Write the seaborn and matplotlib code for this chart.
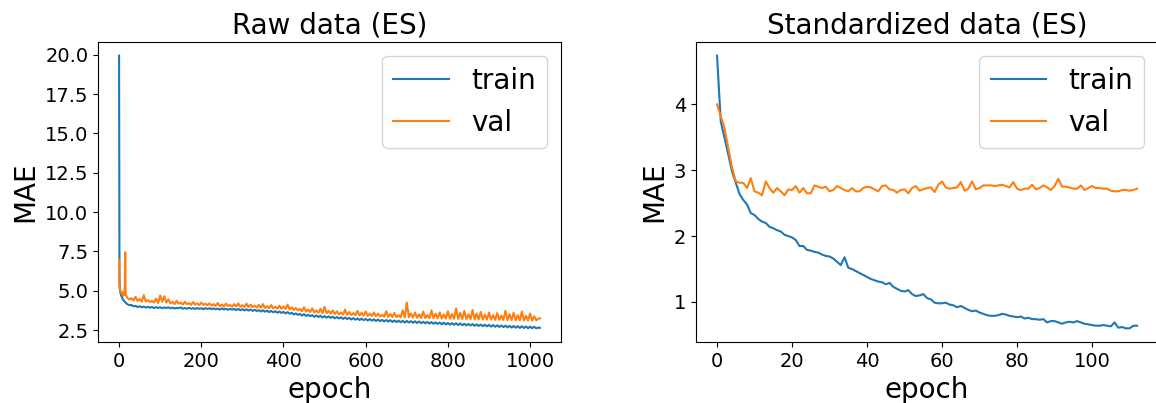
import matplotlib
matplotlib.use("Agg")
import matplotlib.pyplot as plt
import seaborn as sns

# ---- raw data run (early stopping) ----
raw_epochs = list(range(20)) + list(range(20, 1021, 5)) + [1024]

raw_train = [
    19.95, 5.60, 5.05, 4.90, 4.80, 4.72, 4.65, 4.58, 4.52, 4.47,
    4.43, 4.39, 4.36, 4.32, 4.30, 4.27, 4.24, 4.22, 4.19, 4.17,
    # 20 - 115
    4.15, 4.08, 4.10, 4.01, 4.04, 3.96, 4.02, 3.95, 3.99, 3.93,
    3.98, 3.92, 3.97, 3.90, 3.96, 3.91, 3.95, 3.89, 3.94, 3.90,
    # 120 - 215
    3.95, 3.88, 3.93, 3.87, 3.92, 3.89, 3.94, 3.86, 3.91, 3.85,
    3.92, 3.86, 3.90, 3.84, 3.91, 3.85, 3.89, 3.83, 3.90, 3.84,
    # 220 - 315
    3.89, 3.83, 3.88, 3.82, 3.87, 3.80, 3.88, 3.81, 3.86, 3.79,
    3.85, 3.80, 3.84, 3.77, 3.85, 3.76, 3.83, 3.75, 3.82, 3.74,
    # 320 - 415
    3.81, 3.72, 3.79, 3.71, 3.77, 3.68, 3.76, 3.67, 3.74, 3.64,
    3.72, 3.63, 3.70, 3.60, 3.68, 3.59, 3.66, 3.56, 3.64, 3.54,
    # 420 - 515
    3.60, 3.49, 3.56, 3.47, 3.53, 3.42, 3.51, 3.40, 3.47, 3.39,
    3.45, 3.34, 3.43, 3.33, 3.41, 3.30, 3.39, 3.29, 3.37, 3.28,
    # 520 - 615
    3.35, 3.25, 3.33, 3.24, 3.31, 3.21, 3.30, 3.20, 3.28, 3.17,
    3.26, 3.16, 3.24, 3.14, 3.23, 3.13, 3.21, 3.11, 3.20, 3.10,
    # 620 - 715
    3.18, 3.08, 3.17, 3.07, 3.15, 3.05, 3.14, 3.04, 3.13, 3.02,
    3.11, 3.01, 3.10, 3.00, 3.09, 2.98, 3.08, 2.98, 3.07, 2.96,
    # 720 - 815
    3.06, 2.95, 3.05, 2.94, 3.03, 2.93, 3.02, 2.91, 3.01, 2.90,
    2.99, 2.89, 2.98, 2.87, 2.97, 2.86, 2.95, 2.85, 2.94, 2.84,
    # 820 - 915
    2.93, 2.82, 2.92, 2.81, 2.90, 2.80, 2.89, 2.79, 2.88, 2.77,
    2.86, 2.76, 2.85, 2.75, 2.84, 2.74, 2.83, 2.72, 2.82, 2.71,
    # 920 - 1015
    2.80, 2.70, 2.79, 2.69, 2.78, 2.67, 2.77, 2.66, 2.76, 2.65,
    2.75, 2.64, 2.74, 2.63, 2.73, 2.62, 2.72, 2.62, 2.71, 2.61,
    # 1020, 1024
    2.66, 2.64,
]

raw_val = [
    6.95, 5.30, 5.10, 5.00, 4.95, 4.90, 4.85, 4.95, 4.80, 4.75,
    4.85, 4.70, 4.72, 4.90, 5.30, 7.45, 4.90, 4.70, 4.65, 4.60,
    # 20 - 115
    4.55, 4.45, 4.52, 4.38, 4.62, 4.35, 4.48, 4.30, 4.72, 4.32,
    4.40, 4.28, 4.36, 4.25, 4.50, 4.22, 4.70, 4.30, 4.65, 4.25,
    # 120 - 215
    4.45, 4.20, 4.30, 4.15, 4.35, 4.18, 4.25, 4.12, 4.30, 4.15,
    4.22, 4.10, 4.28, 4.12, 4.20, 4.08, 4.25, 4.10, 4.18, 4.08,
    # 220 - 315
    4.20, 4.05, 4.15, 4.03, 4.22, 4.02, 4.12, 4.00, 4.18, 4.03,
    4.10, 3.98, 4.15, 4.00, 4.20, 3.98, 4.08, 3.97, 4.18, 3.96,
    # 320 - 415
    4.12, 3.95, 4.05, 3.93, 4.10, 3.92, 4.15, 3.90, 4.02, 3.88,
    4.08, 3.88, 3.98, 3.86, 4.05, 3.85, 4.00, 3.84, 4.12, 3.82,
    # 420 - 515
    3.95, 3.78, 3.90, 3.75, 3.85, 3.70, 3.95, 3.68, 3.80, 3.65,
    3.88, 3.62, 3.75, 3.60, 3.85, 3.58, 3.98, 3.57, 3.72, 3.55,
    # 520 - 615
    3.75, 3.52, 3.70, 3.50, 3.62, 3.48, 3.80, 3.46, 3.65, 3.45,
    3.58, 3.44, 3.72, 3.43, 3.60, 3.42, 3.68, 3.40, 3.55, 3.40,
    # 620 - 715
    3.62, 3.38, 3.55, 3.36, 3.48, 3.35, 3.70, 3.34, 3.52, 3.33,
    3.60, 3.32, 3.45, 3.31, 3.75, 3.30, 4.25, 3.32, 3.55, 3.30,
    # 720 - 815
    3.62, 3.28, 3.50, 3.27, 3.68, 3.26, 3.45, 3.25, 3.75, 3.25,
    3.55, 3.24, 3.62, 3.23, 3.48, 3.23, 3.70, 3.22, 3.52, 3.22,
    # 820 - 915
    3.88, 3.21, 3.60, 3.20, 3.72, 3.20, 3.50, 3.19, 3.78, 3.18,
    3.55, 3.18, 3.65, 3.17, 3.48, 3.16, 3.62, 3.16, 3.45, 3.15,
    # 920 - 1015
    3.58, 3.15, 3.42, 3.14, 3.72, 3.13, 3.50, 3.13, 3.60, 3.12,
    3.45, 3.12, 3.68, 3.11, 3.40, 3.11, 3.55, 3.10, 3.38, 3.12,
    # 1020, 1024
    3.22, 3.25,
]

# ---- standardized data run (early stopping) ----
std_epochs = list(range(113))

std_train = [
    4.74, 3.74, 3.49, 3.24, 2.98, 2.81, 2.64, 2.55, 2.48, 2.35,
    2.32, 2.26, 2.22, 2.20, 2.14, 2.12, 2.09, 2.07, 2.02, 2.00,
    1.98, 1.94, 1.85, 1.85, 1.79, 1.78, 1.76, 1.75, 1.72, 1.70,
    1.69, 1.66, 1.61, 1.56, 1.68, 1.52, 1.50, 1.47, 1.44, 1.41,
    1.38, 1.35, 1.33, 1.31, 1.30, 1.27, 1.29, 1.23, 1.20, 1.17,
    1.16, 1.18, 1.12, 1.09, 1.10, 1.12, 1.06, 1.04, 0.99, 0.98,
    0.98, 0.99, 0.96, 0.95, 0.92, 0.94, 0.91, 0.88, 0.86, 0.87,
    0.84, 0.82, 0.80, 0.79, 0.79, 0.80, 0.82, 0.81, 0.79, 0.78,
    0.77, 0.78, 0.75, 0.76, 0.74, 0.74, 0.73, 0.74, 0.69, 0.71,
    0.71, 0.69, 0.67, 0.69, 0.70, 0.69, 0.71, 0.69, 0.67, 0.66,
    0.65, 0.64, 0.64, 0.65, 0.64, 0.63, 0.69, 0.61, 0.62, 0.60,
    0.60, 0.64, 0.64,
]

std_val = [
    4.00, 3.82, 3.64, 3.34, 3.04, 2.83, 2.81, 2.81, 2.73, 2.88,
    2.68, 2.66, 2.62, 2.83, 2.73, 2.66, 2.73, 2.68, 2.62, 2.71,
    2.70, 2.76, 2.66, 2.73, 2.65, 2.65, 2.77, 2.75, 2.73, 2.75,
    2.68, 2.70, 2.76, 2.73, 2.70, 2.68, 2.73, 2.68, 2.68, 2.73,
    2.75, 2.74, 2.71, 2.68, 2.76, 2.77, 2.71, 2.70, 2.66, 2.70,
    2.71, 2.65, 2.73, 2.76, 2.69, 2.71, 2.73, 2.74, 2.67, 2.78,
    2.83, 2.74, 2.72, 2.73, 2.74, 2.82, 2.69, 2.72, 2.83, 2.71,
    2.73, 2.77, 2.77, 2.77, 2.76, 2.77, 2.78, 2.76, 2.74, 2.82,
    2.72, 2.70, 2.72, 2.72, 2.78, 2.71, 2.73, 2.77, 2.74, 2.70,
    2.76, 2.87, 2.75, 2.75, 2.74, 2.72, 2.72, 2.77, 2.70, 2.73,
    2.76, 2.73, 2.73, 2.72, 2.72, 2.69, 2.68, 2.68, 2.70, 2.70,
    2.69, 2.70, 2.72,
]

_BIG = 20
_SMALL = 14

fig = plt.figure(figsize=(11.56, 4.03), dpi=100)
ax1 = fig.add_axes([0.0848, 0.1514, 0.4005, 0.7444])
ax2 = fig.add_axes([0.6021, 0.1514, 0.3997, 0.7444])

sns.lineplot(x=raw_epochs, y=raw_train, ax=ax1, color="C0", label="train")
sns.lineplot(x=raw_epochs, y=raw_val, ax=ax1, color="C1", label="val")
ax1.set_title("Raw data (ES)", fontsize=_BIG)
ax1.set_yticks([2.5, 5.0, 7.5, 10.0, 12.5, 15.0, 17.5, 20.0])
ax1.set_xticks([0, 200, 400, 600, 800, 1000])

sns.lineplot(x=std_epochs, y=std_train, ax=ax2, color="C0", label="train")
sns.lineplot(x=std_epochs, y=std_val, ax=ax2, color="C1", label="val")
ax2.set_title("Standardized data (ES)", fontsize=_BIG)
ax2.set_yticks([1, 2, 3, 4])
ax2.set_xticks([0, 20, 40, 60, 80, 100])

for ax in (ax1, ax2):
    ax.set_xlabel("epoch", fontsize=_BIG)
    ax.set_ylabel("MAE", fontsize=_BIG)
    ax.tick_params(labelsize=_SMALL)
    ax.legend(loc="upper right", fontsize=_BIG)

fig.savefig("out.png", dpi=100)
